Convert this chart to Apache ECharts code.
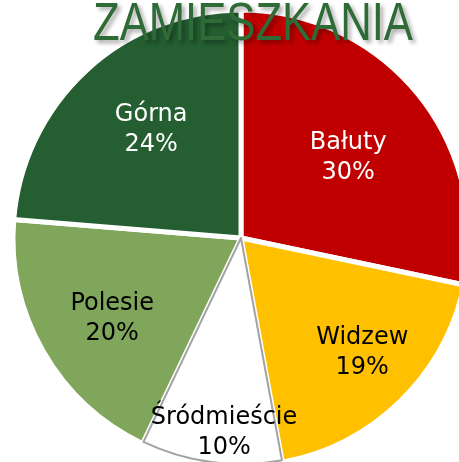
<!DOCTYPE html>
<html>
<head>
<meta charset="utf-8">
<script src="https://cdn.jsdelivr.net/npm/echarts@6/dist/echarts.min.js"></script>
<style>
  html, body { margin: 0; padding: 0; background: #fff; }
  #chart { width: 459px; height: 462px; }
</style>
</head>
<body>
<div id="chart"></div>
<script>
// dane
const categories = ['Bałuty', 'Widzew', 'Śródmieście', 'Polesie', 'Górna'];
const shares = [28.3, 18.8, 10.0, 19.2, 23.7];
const pctLabels = ['30%', '19%', '10%', '20%', '24%'];

const colors = ['#c00000', '#ffc000', '#ffffff', '#7fa65a', '#245e31'];
const labelColors = ['#ffffff', '#000000', '#000000', '#000000', '#ffffff'];
// label placement: radial factor vs default mid radius, then a small nudge
const labelRadius = [1.19, 1.46, 1.7, 1.34, 1.27];
const labelNudge = [[0, 7], [3, -6], [9, -1], [6, 3], [10, 0]];

const CX = 241, CY = 238, R = 228;

const chart = echarts.init(document.getElementById('chart'));

const mainData = categories.map((name, i) => ({
  name: name,
  value: shares[i],
  itemStyle: {
    color: colors[i],
    borderColor: '#ffffff',
    borderWidth: i === 2 ? 0 : 5
  }
}));

// second pass on top: grey outline of the white slice + all the labels
const topData = categories.map((name, i) => ({
  name: name,
  value: shares[i],
  itemStyle: i === 2
    ? { color: '#ffffff', borderColor: '#a3a3a3', borderWidth: 2 }
    : { color: 'rgba(0,0,0,0)', borderWidth: 0 },
  label: { color: labelColors[i] }
}));

const option = {
  animation: false,
  graphic: [
    {
      type: 'text',
      x: 93,
      y: -1,
      scaleX: 0.823,
      z: 100,
      style: {
        text: 'ZAMIESZKANIA',
        font: '53px "Liberation Sans", Arial, sans-serif',
        fill: '#2e6b37',
        align: 'left',
        verticalAlign: 'top',
        textShadowColor: 'rgba(0,0,0,0.35)',
        textShadowBlur: 4,
        textShadowOffsetX: 3,
        textShadowOffsetY: 3
      }
    }
  ],
  series: [
    {
      type: 'pie',
      center: [CX, CY],
      radius: [0, R],
      startAngle: 90,
      clockwise: true,
      silent: true,
      data: mainData,
      label: { show: false },
      labelLine: { show: false },
      z: 2
    },
    {
      type: 'pie',
      center: [CX, CY],
      radius: [0, R - 2],
      startAngle: 90,
      clockwise: true,
      silent: true,
      data: topData,
      label: {
        show: true,
        position: 'inside',
        fontFamily: '"DejaVu Sans", Verdana, sans-serif',
        fontSize: 24,
        lineHeight: 30,
        formatter: p => p.name + '\n' + pctLabels[p.dataIndex]
      },
      labelLine: { show: false },
      labelLayout: function (p) {
        const r = p.labelRect;
        const cx = r.x + r.width / 2;
        const cy = r.y + r.height / 2;
        const f = labelRadius[p.dataIndex];
        const n = labelNudge[p.dataIndex];
        return { dx: (cx - CX) * (f - 1) + n[0], dy: (cy - CY) * (f - 1) + n[1] };
      },
      z: 3
    }
  ]
};

chart.setOption(option);
</script>
</body>
</html>
